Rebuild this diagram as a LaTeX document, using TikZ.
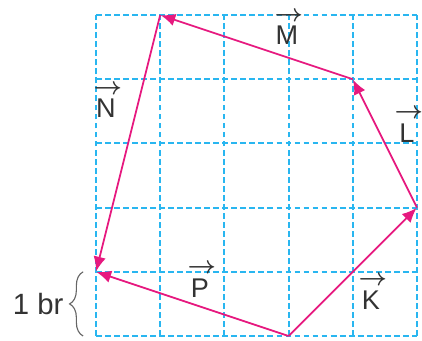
\documentclass[tikz,border=0pt]{standalone}
\usepackage{fontspec}
\setmainfont{Liberation Sans}
\usetikzlibrary{arrows.meta,decorations.pathreplacing}
\definecolor{gridc}{HTML}{29B6F0}
\definecolor{vecc}{HTML}{E6197F}
\definecolor{txtc}{HTML}{333333}
\tikzset{
  gridline/.style={gridc, line width=0.85pt, dash pattern=on 2.6pt off 1.4pt},
  vecline/.style={vecc, line width=0.8pt, -{Latex[length=6.5pt,width=5.5pt]}, shorten >=0.2pt},
  veclab/.style={anchor=base, inner sep=0pt, text=txtc, font=\fontsize{12}{14}\selectfont},
  arrlab/.style={anchor=center, inner sep=0pt, text=txtc, font=\fontsize{11}{13}\selectfont\boldmath},
  bracestyle/.style={gray!80!black, line width=0.5pt, decorate, decoration={brace, amplitude=6pt}},
}
\begin{document}
\begin{tikzpicture}
\useasboundingbox (-1.495,-0.062) rectangle (5.078,5.234);
\foreach \i in {0,...,5} {
  \draw[gridline] (\i,0) -- (\i,5);
  \draw[gridline] (0,\i) -- (5,\i);
}
\coordinate (A) at (3,0);
\coordinate (B) at (5,2);
\coordinate (C) at (4,4);
\coordinate (D) at (1,5);
\coordinate (E) at (0,1);
\draw[vecline] (A) -- (B);
\draw[vecline] (B) -- (C);
\draw[vecline] (C) -- (D);
\draw[vecline] (D) -- (E);
\draw[vecline] (A) -- (E);
\node[veclab] (lM) at (2.975,4.533) {M};
\node[veclab] (lN) at (0.156,3.396) {N};
\node[veclab] (lL) at (4.844,3.022) {L};
\node[veclab] (lK) at (4.283,0.421) {K};
\node[veclab] (lP) at (1.62,0.607) {P};
\foreach \n in {lM,lN,lL,lK,lP} {
  \node[arrlab] (a\n) at ([xshift=0.8pt,yshift=4pt]\n.north) {$\rightarrow$};
}
\coordinate (b0) at (-0.2,0);
\coordinate (b1) at (-0.2,1);
\draw[bracestyle] (b0) -- (b1);
\node[anchor=east, inner sep=0pt, text=txtc, font=\fontsize{13}{15}\selectfont] (br) at (-0.5,0.5) {1 br};
\end{tikzpicture}
\end{document}
